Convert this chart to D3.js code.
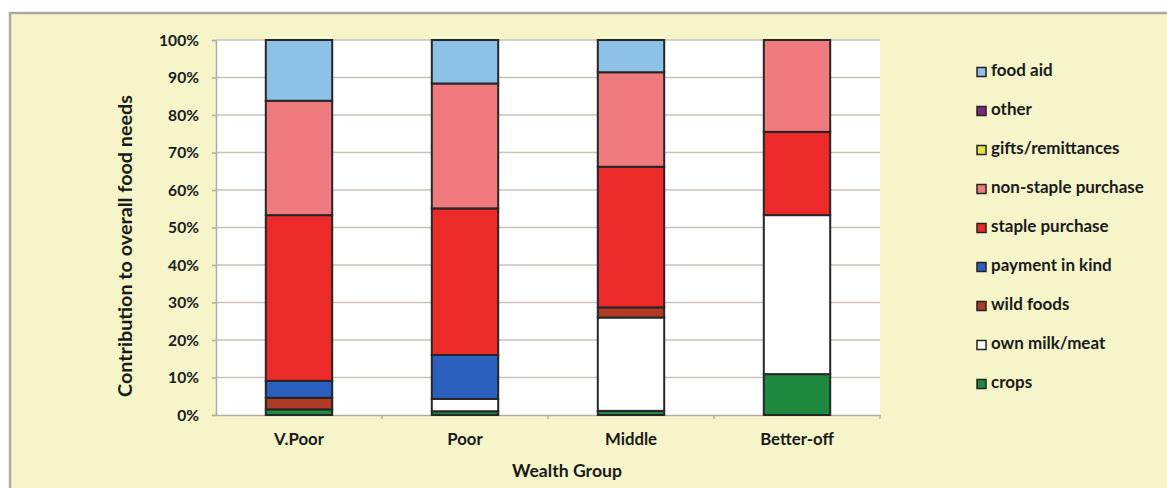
<!DOCTYPE html>
<html>
<head>
<meta charset="utf-8">
<script src="https://cdn.jsdelivr.net/npm/d3@7"></script>
<style>
  html, body { margin: 0; padding: 0; background: #ffffff; }
  svg { display: block; }
  text { font-family: Lato, "Open Sans", sans-serif; fill: #1a1a1a; }
</style>
</head>
<body>
<svg id="chart" width="1167" height="488"></svg>
<script>
// ---- data ----
const categories = ["V.Poor", "Poor", "Middle", "Better-off"];
const seriesNames = ["crops", "own milk/meat", "wild foods", "payment in kind", "staple purchase",
                     "non-staple purchase", "gifts/remittances", "other", "food aid"];
const crops             = [1.5, 1.0, 1.1, 10.9];
const ownMilkMeat       = [0.0, 3.3, 24.9, 42.4];
const wildFoods         = [3.1, 0.0, 2.7, 0.0];
const paymentInKind     = [4.5, 11.7, 0.0, 0.0];
const staplePurchase    = [44.2, 39.1, 37.5, 22.2];
const nonStaplePurchase = [30.5, 33.3, 25.2, 24.5];
const giftsRemittances  = [0, 0, 0, 0];
const other             = [0, 0, 0, 0];
const foodAid           = [16.2, 11.6, 8.6, 0.0];
const yTicks = [0, 10, 20, 30, 40, 50, 60, 70, 80, 90, 100];
const seriesColors = ["#1e8a40", "#ffffff", "#b03a26", "#2b5fbe", "#ec2a2a",
                      "#f07b7e", "#e6df4a", "#7c2a80", "#8ec1e6"];
const legendOrder = ["food aid", "other", "gifts/remittances", "non-staple purchase", "staple purchase",
                     "payment in kind", "wild foods", "own milk/meat", "crops"];

const seriesValues = [crops, ownMilkMeat, wildFoods, paymentInKind, staplePurchase,
                      nonStaplePurchase, giftsRemittances, other, foodAid];
const table = categories.map((c, i) => {
  const row = { category: c };
  seriesNames.forEach((s, j) => row[s] = seriesValues[j][i]);
  return row;
});

// scale a text selection's font size so a reference element reaches a target width
function fitFont(sel, refNode, target, base) {
  const w = refNode.getComputedTextLength();
  const size = base * target / w;
  sel.attr("font-size", size);
}

// ---- layout ----
const svg = d3.select("#chart");
const plot = { left: 216, right: 880, top: 40, bottom: 415 };

// chart frame
svg.append("rect").attr("x", 10).attr("y", 13).attr("width", 1170).attr("height", 490)
  .attr("fill", "#f6f4c9").attr("stroke", "#a9a9a9").attr("stroke-width", 2.5);

const x = d3.scaleBand().domain(categories).range([plot.left, plot.right])
  .paddingInner(0.6).paddingOuter(0.3);
const y = d3.scaleLinear().domain([0, 100]).range([plot.bottom, plot.top]);
const color = d3.scaleOrdinal().domain(seriesNames).range(seriesColors);

// plot area
svg.append("rect").attr("x", plot.left).attr("y", plot.top)
  .attr("width", plot.right - plot.left).attr("height", plot.bottom - plot.top)
  .attr("fill", "#ffffff");

// gridlines
svg.append("g").selectAll("line").data(yTicks.filter(t => t > 0)).join("line")
  .attr("x1", plot.left).attr("x2", plot.right)
  .attr("y1", d => y(d)).attr("y2", d => y(d))
  .attr("stroke", "#cbc2ba").attr("stroke-width", 1.5);

// y axis
const yAxis = svg.append("g").attr("transform", `translate(${plot.left},0)`)
  .call(d3.axisLeft(y).tickValues(yTicks).tickFormat(d => d + "%").tickSize(4).tickPadding(13));
yAxis.select(".domain").attr("stroke", "#b5aca4").attr("stroke-width", 1.5);
yAxis.selectAll(".tick line").attr("stroke", "#b5aca4").attr("stroke-width", 1.5);
const yLabels = yAxis.selectAll(".tick text").attr("font-size", 12).attr("font-weight", "bold")
  .attr("font-family", "Lato, sans-serif").attr("fill", "#2a2a2a");
fitFont(yLabels, yLabels.filter(d => d === 100).node(), 40, 12);

// x axis
const xAxis = svg.append("g").attr("transform", `translate(0,${plot.bottom})`)
  .call(d3.axisBottom(x).tickSize(0).tickPadding(18));
xAxis.select(".domain").attr("stroke", "#b5aca4").attr("stroke-width", 1.5);
const xLabels = xAxis.selectAll(".tick text").attr("font-size", 12).attr("font-weight", "bold")
  .attr("font-family", "Lato, sans-serif").attr("fill", "#2a2a2a");
fitFont(xLabels, xLabels.filter(d => d === "V.Poor").node(), 50, 12);
// category boundary ticks
xAxis.selectAll(".bt").data(d3.range(1, categories.length + 1)).join("line").attr("class", "bt")
  .attr("x1", i => plot.left + i * x.step())
  .attr("x2", i => plot.left + i * x.step())
  .attr("y1", 0).attr("y2", 4).attr("stroke", "#b5aca4").attr("stroke-width", 1.5);

// bars
const stacked = d3.stack().keys(seriesNames)(table);
svg.append("g").selectAll("g").data(stacked).join("g")
  .attr("fill", d => color(d.key))
  .selectAll("rect").data(d => d.filter(s => s[1] - s[0] > 0)).join("rect")
  .attr("x", d => x(d.data.category))
  .attr("width", x.bandwidth())
  .attr("y", d => y(d[1]))
  .attr("height", d => y(d[0]) - y(d[1]))
  .attr("stroke", "#262626").attr("stroke-width", 2);

// axis titles
const yTitle = svg.append("text")
  .attr("transform", `translate(127,246) rotate(-90)`)
  .attr("text-anchor", "middle").attr("dominant-baseline", "middle")
  .attr("font-size", 14).attr("font-weight", "bold")
  .text("Contribution to overall food needs");
fitFont(yTitle, yTitle.node(), 302, 14);
const xTitle = svg.append("text")
  .attr("x", 567).attr("y", 472)
  .attr("text-anchor", "middle").attr("dominant-baseline", "middle")
  .attr("font-size", 14).attr("font-weight", "bold")
  .text("Wealth Group");
fitFont(xTitle, xTitle.node(), 110, 14);

// legend
const legend = svg.append("g").selectAll("g").data(legendOrder).join("g")
  .attr("transform", (d, i) => `translate(977,${72 + i * 39})`);
legend.append("rect").attr("x", 0).attr("y", -4.5).attr("width", 9).attr("height", 9)
  .attr("fill", d => color(d)).attr("stroke", "#222").attr("stroke-width", 1.5);
const legendText = legend.append("text").attr("x", 14).attr("y", 0).attr("dominant-baseline", "middle")
  .attr("font-size", 12).attr("font-weight", "bold").attr("fill", "#2a2a2a")
  .text(d => d);
fitFont(legendText, legendText.filter(d => d === "non-staple purchase").node(), 153, 12);
</script>
</body>
</html>
